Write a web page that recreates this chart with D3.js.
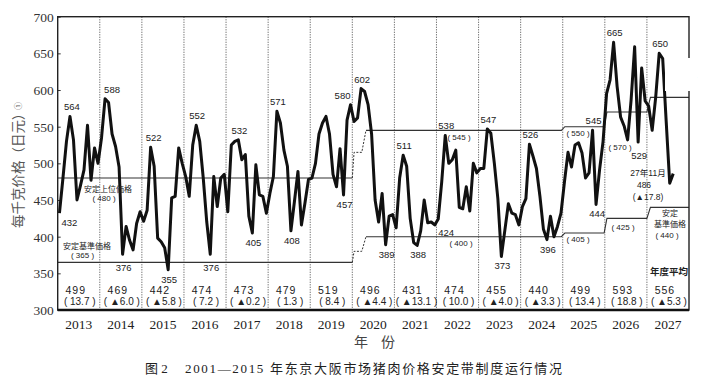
<!DOCTYPE html>
<html>
<head>
<meta charset="utf-8">
<script src="https://cdn.jsdelivr.net/npm/d3@7"></script>
<style>
  body { margin: 0; background: #fff; }
  svg { display: block; }
  .serif { font-family: "Liberation Serif", "Noto Sans CJK SC", serif; }
  .sans { font-family: "Liberation Sans", "Noto Sans CJK JP", sans-serif; }
</style>
</head>
<body>
<div id="chart"></div>
<script>
// Part 1: Data (monthly price, yen per kg, fiscal year rows)
// ==============================
var years = ["2013", "2014", "2015", "2016", "2017", "2018", "2019", "2020",
             "2021", "2022", "2023", "2024", "2025", "2026", "2027"];

var monthlyPrice = [
  [432, 480, 530, 564, 532, 450, 470, 491, 552, 477, 521, 500],
  [535, 588, 583, 540, 523, 495, 376, 414, 395, 382, 418, 434],
  [421, 436, 522, 496, 398, 393, 385, 355, 453, 455, 521, 500],
  [482, 455, 525, 552, 530, 480, 420, 376, 482, 441, 480, 485],
  [434, 525, 530, 532, 505, 512, 428, 405, 498, 457, 455, 432],
  [459, 482, 571, 555, 518, 496, 408, 448, 489, 416, 446, 478],
  [480, 500, 540, 555, 564, 540, 485, 468, 520, 457, 559, 580],
  [557, 562, 602, 598, 580, 540, 450, 420, 459, 389, 428, 430],
  [412, 480, 511, 496, 425, 392, 388, 408, 450, 419, 420, 416],
  [424, 475, 538, 500, 505, 518, 440, 438, 468, 435, 500, 487],
  [493, 493, 547, 541, 500, 452, 373, 409, 445, 432, 430, 416],
  [441, 452, 526, 510, 493, 455, 410, 396, 428, 400, 414, 432],
  [475, 515, 495, 525, 528, 514, 480, 487, 545, 444, 491, 530],
  [595, 614, 665, 605, 563, 551, 532, 587, 659, 529, 630, 585],
  [578, 545, 590, 650, 643, 557, 473, 486]
];

var annualAvg = [499, 469, 442, 474, 473, 479, 519, 496, 431, 474, 455, 440, 499, 593, 556];
var annualChange = ["13.7", "▲6.0", "▲5.8", "7.2", "▲0.2", "1.3", "8.4", "▲4.4",
                    "▲13.1", "10.0", "▲4.0", "▲3.3", "13.4", "18.8", "▲5.3"];

// stable band: [month index, yen]
var upperBand = [[0, 480], [84, 480], [84.5, 515], [86.7, 515], [87.9, 545], [143.6, 545],
                 [144.6, 550], [155.8, 550], [156.6, 570], [168, 570], [169, 590], [180, 590]];
var lowerBand = [[0, 365], [84, 365], [84.5, 380], [86.7, 380], [87.9, 400], [143.6, 400],
                 [144.6, 405], [155.8, 405], [156.6, 425], [168, 425], [169, 440], [180, 440]];
var bandTransition = [84, 87.9];

// labelled months (index into the flat monthly series)
var peakMonths = [3, 13, 26, 39, 51, 62, 83, 86, 98, 110, 122, 134, 152, 158, 171];
var troughMonths = [0, 18, 31, 43, 55, 66, 81, 93, 102, 108, 126, 139, 153, 165];

// Part 2: Plot area
// ==============================
var svgWidth = 716, svgHeight = 382;
var plot = { left: 57.7, right: 689, top: 16.7, bottom: 310 };

var svg = d3.select("#chart").append("svg")
  .attr("width", svgWidth)
  .attr("height", svgHeight);

var prices = monthlyPrice.flat();

var xScale = d3.scaleLinear().domain([0, 180]).range([plot.left, plot.right]);
var yScale = d3.scaleLinear().domain([300, 700]).range([plot.bottom, plot.top]);
var yearBand = d3.scaleBand().domain(years).range([plot.left, plot.right]);

// year dividers
svg.append("g").selectAll("line")
  .data(d3.range(1, years.length))
  .enter().append("line")
  .attr("x1", d => xScale(d * 12)).attr("x2", d => xScale(d * 12))
  .attr("y1", plot.top).attr("y2", plot.bottom)
  .attr("stroke", "#555")
  .attr("stroke-width", 0.9)
  .attr("stroke-dasharray", "1.2,1.3");

// y axis
var leftAxis = d3.axisLeft(yScale)
  .tickValues(d3.range(300, 701, 50))
  .tickSizeInner(-3).tickSizeOuter(0).tickPadding(4);
var yAxis = svg.append("g")
  .attr("transform", `translate(${plot.left},0)`)
  .call(leftAxis);
yAxis.select(".domain").remove();
yAxis.selectAll("line").attr("stroke", "#333");
yAxis.selectAll("text")
  .attr("class", "serif")
  .attr("font-size", 13.5)
  .attr("fill", "#333");

// x axis (year names)
var bottomAxis = d3.axisBottom(yearBand).tickSize(0).tickPadding(9);
var xAxis = svg.append("g")
  .attr("transform", `translate(0,${plot.bottom})`)
  .call(bottomAxis);
xAxis.select(".domain").remove();
xAxis.selectAll("text")
  .attr("class", "serif")
  .attr("font-size", 13.5)
  .attr("fill", "#222");

// Part 3: Stable price band
// ==============================
var bandLine = d3.line().x(d => xScale(d[0])).y(d => yScale(d[1]));

function drawBand(band) {
  var solidA = band.filter(d => d[0] <= bandTransition[0]);
  var dashed = band.filter(d => d[0] >= bandTransition[0] && d[0] <= bandTransition[1]);
  var solidB = band.filter(d => d[0] >= bandTransition[1]);
  [solidA, solidB].forEach(function(seg) {
    svg.append("path").attr("d", bandLine(seg))
      .attr("fill", "none").attr("stroke", "#333").attr("stroke-width", 1.1);
  });
  svg.append("path").attr("d", bandLine(dashed))
    .attr("fill", "none").attr("stroke", "#333").attr("stroke-width", 1)
    .attr("stroke-dasharray", "2,1.5");
}
drawBand(upperBand);
drawBand(lowerBand);

// Part 4: Price curve
// ==============================
var priceLine = d3.line()
  .x((d, i) => xScale(i + 0.5))
  .y(d => yScale(d))
  .curve(d3.curveLinear);

svg.append("path")
  .datum(prices)
  .attr("d", priceLine)
  .attr("fill", "none")
  .attr("stroke", "#111")
  .attr("stroke-width", 3)
  .attr("stroke-linejoin", "round");

// frame
svg.append("rect")
  .attr("x", plot.left).attr("y", plot.top)
  .attr("width", plot.right - plot.left).attr("height", plot.bottom - plot.top)
  .attr("fill", "none").attr("stroke", "#222").attr("stroke-width", 1.4);
svg.append("line")
  .attr("x1", plot.left).attr("x2", plot.right)
  .attr("y1", plot.bottom).attr("y2", plot.bottom)
  .attr("stroke", "#111").attr("stroke-width", 2.4);

// Part 5: Value labels
// ==============================
var nudge = { 13: 7, 0: 10, 83: -8, 108: 8, 3: 2, 26: 3 };
var labels = svg.append("g").attr("class", "sans").attr("font-size", 9.5)
  .attr("fill", "#222").attr("text-anchor", "middle");

labels.selectAll(".peak")
  .data(peakMonths).enter().append("text")
  .attr("x", d => xScale(d + 0.5) + (nudge[d] || 1))
  .attr("y", d => yScale(prices[d]) - 6)
  .text(d => prices[d]);

labels.selectAll(".trough")
  .data(troughMonths).enter().append("text")
  .attr("x", d => xScale(d + 0.5) + (nudge[d] || 1))
  .attr("y", d => yScale(prices[d]) + (d === 18 || d === 43 || d === 108 || d === 165 ? 17 : 13))
  .text(d => prices[d]);

// band values
function bandNote(txt, x, y) {
  labels.append("text").attr("x", x).attr("y", y)
    .attr("font-size", 8).text(txt);
}
bandNote("安定上位価格", 108, 192);
bandNote("( 480 )", 104, 201);
bandNote("安定基準価格", 87, 248.5);
bandNote("( 365 )", 82.5, 258);
bandNote("( 545 )", 459, 140);
bandNote("( 400 )", 461, 246);
bandNote("( 550 )", 578, 135.5);
bandNote("( 405 )", 578, 242);
bandNote("( 570 )", 620, 149.5);
bandNote("( 425 )", 623, 229.5);

svg.append("rect").attr("x", 665).attr("y", 58).attr("width", 32).attr("height", 33).attr("fill", "#fff");
bandNote("安定", 680, 71);
bandNote("上位価格", 681, 80);
bandNote("( 590 )", 678, 89);
bandNote("安定", 670, 216);
bandNote("基準価格", 670, 227);
bandNote("( 440 )", 667, 238);

labels.append("text").attr("x", 648).attr("y", 176).attr("font-size", 8.5).text("27年11月");
labels.append("text").attr("x", 644).attr("y", 188).attr("font-size", 8.5).text("486");
labels.append("text").attr("x", 648).attr("y", 200).attr("font-size", 8.5).text("(▲17.8)");
labels.append("text").attr("x", 669).attr("y", 275).attr("font-size", 9.5)
  .attr("font-weight", "bold").text("年度平均");

// annual averages
var avgRow = svg.append("g").attr("class", "sans").attr("fill", "#222").attr("text-anchor", "middle");
avgRow.selectAll(".avg")
  .data(annualAvg).enter().append("text")
  .attr("x", (d, i) => yearBand(years[i]) + yearBand.bandwidth() / 2 - 3)
  .attr("y", 293.5)
  .attr("font-size", 10.5)
  .attr("letter-spacing", 1)
  .text(d => d);
avgRow.selectAll(".chg")
  .data(annualChange).enter().append("text")
  .attr("x", (d, i) => yearBand(years[i]) + yearBand.bandwidth() / 2 + 1)
  .attr("y", 304.5)
  .attr("font-size", 10)
  .text(d => "( " + d + " )");

// Part 6: Titles
// ==============================
svg.append("text")
  .attr("class", "serif")
  .attr("transform", "translate(23,228) rotate(-90)")
  .attr("font-size", 13.5)
  .attr("fill", "#555")
  .text("每千克价格（日元）");
svg.append("text")
  .attr("class", "serif")
  .attr("transform", "translate(21,106) rotate(-90)")
  .attr("font-size", 8)
  .attr("fill", "#555")
  .attr("text-anchor", "middle")
  .text("①");

svg.append("text")
  .attr("class", "serif")
  .attr("x", 354).attr("y", 347)
  .attr("font-size", 14)
  .attr("letter-spacing", 13)
  .attr("fill", "#444")
  .text("年份");

svg.append("text")
  .attr("class", "serif")
  .attr("x", 145).attr("y", 373)
  .attr("font-size", 13)
  .attr("fill", "#222")
  .text("图 2");
svg.append("text")
  .attr("class", "serif")
  .attr("x", 185).attr("y", 373)
  .attr("font-size", 13)
  .attr("fill", "#222")
  .attr("textLength", 377)
  .attr("lengthAdjust", "spacing")
  .text("2001—2015 年东京大阪市场猪肉价格安定带制度运行情况");
</script>
</body>
</html>
